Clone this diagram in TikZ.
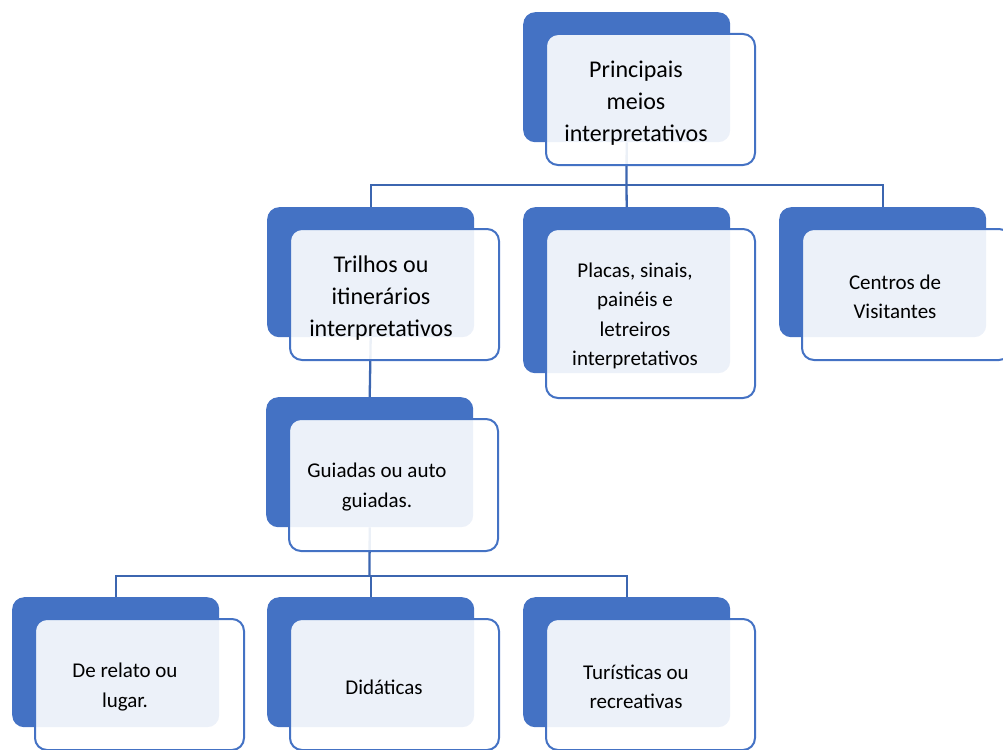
\documentclass[tikz,border=0pt]{standalone}
\usepackage{fontspec}
\setmainfont{Carlito}
\definecolor{meioblue}{HTML}{4472C4}
\definecolor{linkblue}{HTML}{3C66B0}
\tikzset{
    backbox/.style={fill=meioblue, rounded corners=12pt, minimum width=207pt, minimum height=130pt, anchor=north west, inner sep=0pt},
    frontbox/.style={draw=meioblue, line width=2pt, fill=white, fill opacity=0.9, rounded corners=12pt, minimum width=209pt, minimum height=131pt, anchor=north west, inner sep=0pt},
    bigtext/.style={align=center, font=\fontsize{24}{32}\selectfont},
    smalltext/.style={align=center, font=\fontsize{21}{29.5}\selectfont},
    link/.style={draw=linkblue, line width=2.3pt}
}
\begin{document}
\begin{tikzpicture}[x=1pt, y=-1pt]
    \useasboundingbox (0,0) rectangle (1003,749);
    \clip (0,0) rectangle (1003,749);

    % back boxes
    \node[backbox] (bprinc) at (523,12) {};
    \node[backbox] (btrilhos) at (267,207) {};
    \node[backbox, minimum height=166pt] (bplacas) at (523,207) {};
    \node[backbox] (bcentros) at (779,207) {};
    \node[backbox] (bguiadas) at (266,397) {};
    \node[backbox] (brelato) at (12,597) {};
    \node[backbox] (bdidat) at (267,597) {};
    \node[backbox] (bturist) at (523,597) {};

    % connectors
    \coordinate (jtop) at (626.5,185);
    \coordinate (jmid) at (369.5,576);
    \draw[link] (bprinc.south) -- (jtop);
    \draw[link] (jtop) -| (btrilhos.north);
    \draw[link] (jtop) -- (bplacas.north);
    \draw[link] (jtop) -| (bcentros.north);
    \draw[link] (btrilhos.south) -- (bguiadas.north);
    \draw[link] (bguiadas.south) -- (jmid);
    \draw[link] (jmid) -| (brelato.north);
    \draw[link] (jmid) -| (bdidat.north);
    \draw[link] (jmid) -| (bturist.north);

    % front boxes
    \node[frontbox] (fprinc) at (545,33) {};
    \node[frontbox] (ftrilhos) at (289,228) {};
    \node[frontbox, minimum height=169pt] (fplacas) at (545,228) {};
    \node[frontbox] (fcentros) at (801,228) {};
    \node[frontbox, minimum height=132pt] (fguiadas) at (288,418) {};
    \node[frontbox] (frelato) at (34,618) {};
    \node[frontbox] (fdidat) at (289,618) {};
    \node[frontbox] (fturist) at (545,618) {};

    % texts
    \node[bigtext] (tprinc) at (636,103) {Principais\\meios\\interpretativos};
    \node[bigtext] (ttrilhos) at (381,298) {Trilhos ou\\itinerários\\interpretativos};
    \node[smalltext] (tplacas) at (635,316) {Placas, sinais,\\painéis e\\letreiros\\interpretativos};
    \node[smalltext] (tcentros) at (895,297) {Centros de\\Visitantes};
    \node[smalltext] (tguiadas) at (377,487) {Guiadas ou auto\\guiadas.};
    \node[smalltext] (trelato) at (125,687) {De relato ou\\lugar.};
    \node[smalltext] (tdidat) at (384,687) {Didáticas};
    \node[smalltext] (tturist) at (636,687) {Turísticas ou\\recreativas};
\end{tikzpicture}
\end{document}
